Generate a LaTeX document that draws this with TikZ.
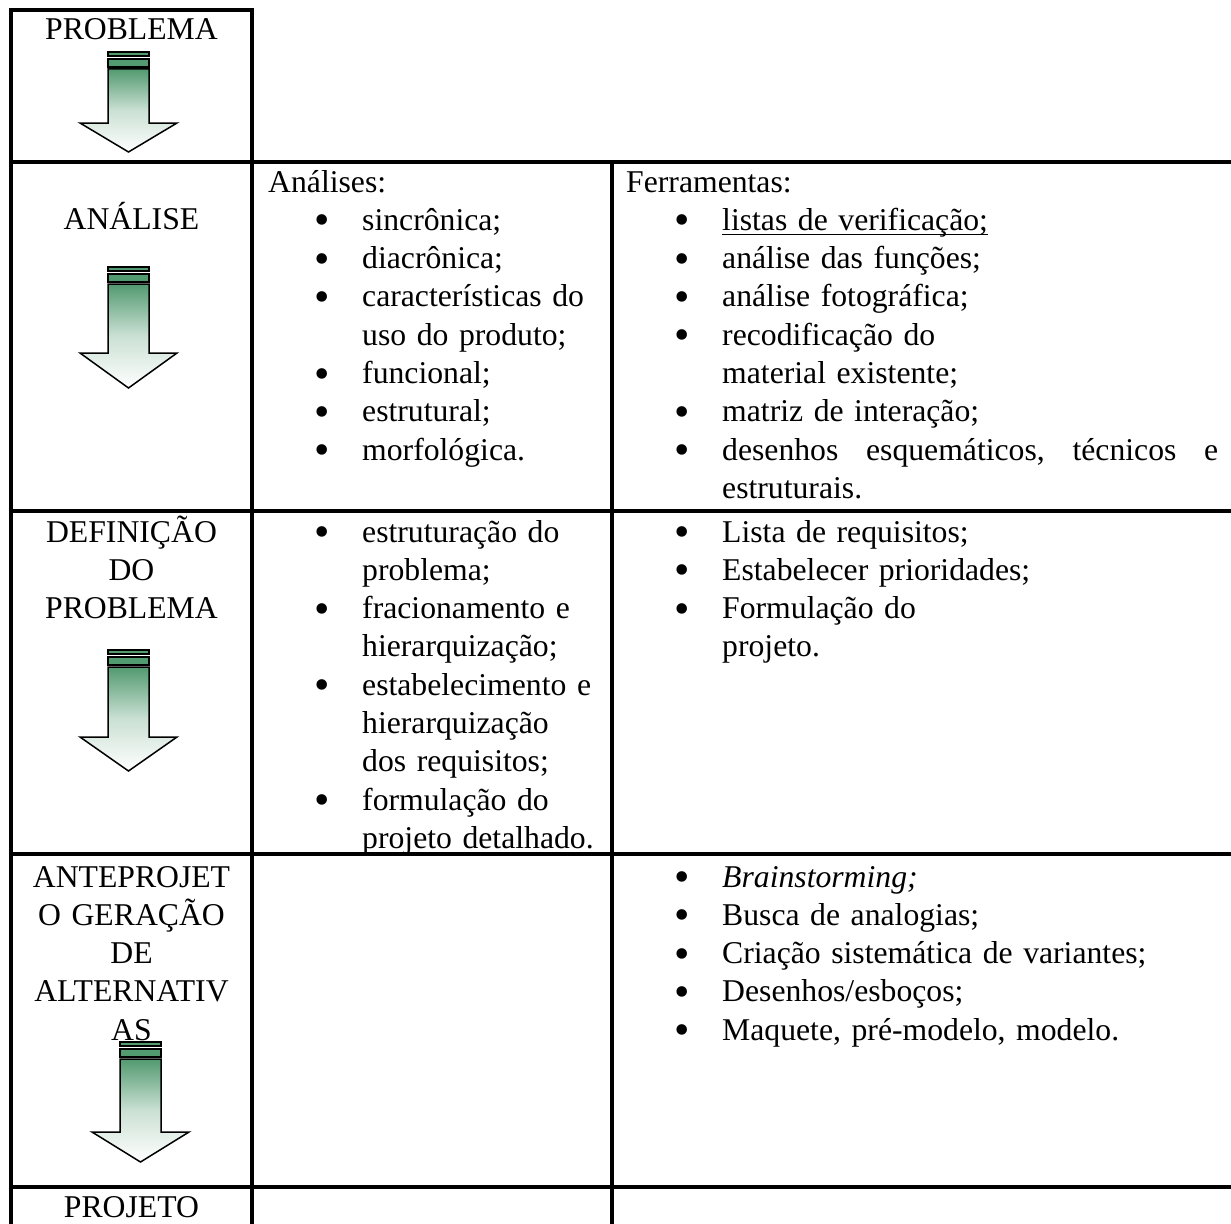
\documentclass[tikz,border=0pt]{standalone}
\usepackage{fontspec}
\setmainfont{Liberation Serif}
\usepackage{tikz}
\definecolor{verde}{RGB}{82,154,112}
\newcommand{\bul}{\leavevmode\llap{\raisebox{-4.5pt}{\fontsize{44}{38}\selectfont\textbullet}\hspace{32.3pt}}}
\newcommand{\sublinha}[1]{\setbox0\hbox{#1}\rlap{\rule[-5pt]{\wd0}{1.8pt}}#1}
\newcommand{\seta}[4]{%
  \filldraw[fill=verde, line width=1.2pt] (#1-20.5,#2) rectangle (#1+20.5,#2+4);
  \filldraw[fill=verde, line width=1.2pt] (#1-20.5,#2+7) rectangle (#1+20.5,#2+15);
  \draw[line width=1.5pt, top color=verde, bottom color=white, middle color=verde!30!white]
    (#1-20.5,#2+17) -- (#1+20.5,#2+17) -- (#1+20.5,#3) -- (#1+48.5,#3)
    -- (#1,#4) -- (#1-48.5,#3) -- (#1-20.5,#3) -- cycle;
}

\begin{document}
\begin{tikzpicture}[x=1pt, y=-1pt, font=\fontsize{31.7}{38.3}\selectfont,
    grade/.style = {line width=4.5pt},
    etapa/.style = {anchor=base, text width=240pt, align=center, inner sep=0pt},
    lista/.style = {anchor=base west, text width=520pt, align=left, inner sep=0pt},
    titulo/.style = {anchor=base west, inner sep=0pt}]
    \useasboundingbox (0,0) rectangle (1231,1223);
    \fill[white] (0,0) rectangle (1231,1223);

    \draw[grade] (252,1240) -- (252,10) -- (11,10) -- (11,1240);
    \draw[grade] (612,162) -- (612,1240);
    \draw[grade] (11,162) -- (1245,162);
    \draw[grade] (11,511) -- (1245,511);
    \draw[grade] (11,854) -- (1245,854);
    \draw[grade] (11,1187) -- (1245,1187);

    \node[etapa] (e1) at (131.5,40) {PROBLEMA};
    \node[etapa] (e2) at (131.5,229) {ANÁLISE};
    \node[etapa] (e3) at (131.5,542) {DEFINIÇÃO\\DO\\PROBLEMA};
    \node[etapa] (e4) at (131.5,887) {ANTEPROJET\\O GERAÇÃO\\DE\\ALTERNATIV\\AS};
    \node[etapa] (e5) at (131.5,1217) {PROJETO};

    \node[titulo] (a2) at (268,192) {Análises:};
    \node[lista] (a2l) at (362,230.3) {\bul sincrônica;\\
      \bul diacrônica;\\
      \bul características do\\
      uso do produto;\\
      \bul funcional;\\
      \bul estrutural;\\
      \bul morfológica.};
    \node[lista] (a3l) at (362,542) {\bul estruturação do\\
      problema;\\
      \bul fracionamento e\\
      hierarquização;\\
      \bul estabelecimento e\\
      hierarquização\\
      dos requisitos;\\
      \bul formulação do\\
      projeto detalhado.};

    \node[titulo] (f2) at (626,192) {Ferramentas:};
    \node[lista] (f2l) at (722,230.3) {\bul \sublinha{listas de verificação;}\\
      \bul análise das funções;\\
      \bul análise fotográfica;\\
      \bul recodificação do\\
      material existente;\\
      \bul matriz de interação;\\
      \bul \makebox[496pt][s]{desenhos\hfill esquemáticos,\hfill técnicos\hfill e}\\
      estruturais.};
    \node[lista] (f3l) at (722,542) {\bul Lista de requisitos;\\
      \bul Estabelecer prioridades;\\
      \bul Formulação do\\
      projeto.};
    \node[lista] (f4l) at (722,887) {\bul \textit{Brainstorming;}\\
      \bul Busca de analogias;\\
      \bul Criação sistemática de variantes;\\
      \bul Desenhos/esboços;\\
      \bul Maquete, pré-modelo, modelo.};

    \seta{128.5}{52}{123}{152}
    \seta{128.5}{267}{353}{388}
    \seta{128.5}{650}{737}{771}
    \seta{140.5}{1042}{1132}{1162}
\end{tikzpicture}
\end{document}
